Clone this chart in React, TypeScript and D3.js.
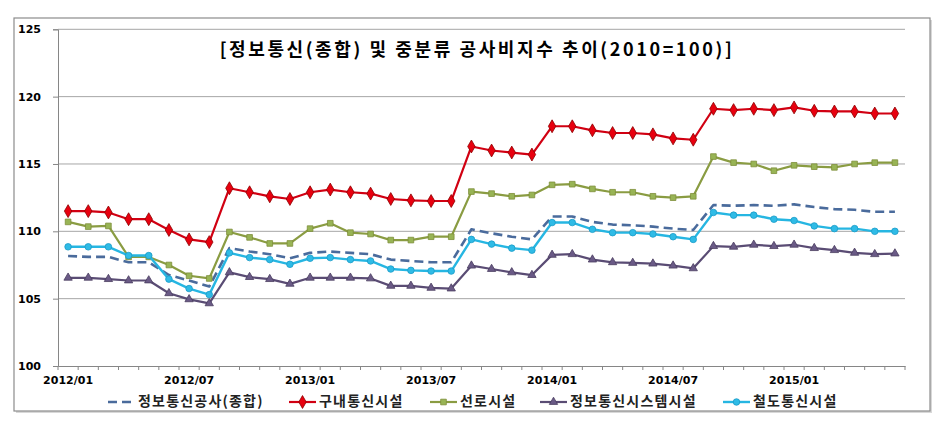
import React, { useEffect, useRef } from "react";
import * as d3 from "d3";

const months = [
  "2012/01", "2012/02", "2012/03", "2012/04", "2012/05", "2012/06",
  "2012/07", "2012/08", "2012/09", "2012/10", "2012/11", "2012/12",
  "2013/01", "2013/02", "2013/03", "2013/04", "2013/05", "2013/06",
  "2013/07", "2013/08", "2013/09", "2013/10", "2013/11", "2013/12",
  "2014/01", "2014/02", "2014/03", "2014/04", "2014/05", "2014/06",
  "2014/07", "2014/08", "2014/09", "2014/10", "2014/11", "2014/12",
  "2015/01", "2015/02", "2015/03", "2015/04", "2015/05", "2015/06",
];
const xTickLabels = ["2012/01", "2012/07", "2013/01", "2013/07", "2014/01", "2014/07", "2015/01"];
const yTicks = [100, 105, 110, 115, 120, 125];

const total = [
  108.17, 108.1, 108.1, 107.7, 107.7, 106.75, 106.35, 105.9, 108.75, 108.5, 108.3, 108.0,
  108.4, 108.5, 108.4, 108.3, 107.9, 107.8, 107.7, 107.7, 110.15, 109.85, 109.6, 109.4,
  111.1, 111.1, 110.7, 110.5, 110.45, 110.35, 110.2, 110.1, 111.95, 111.9, 111.95, 111.9,
  112.0, 111.8, 111.65, 111.6, 111.45, 111.45,
];
const indoor = [
  111.5, 111.5, 111.4, 110.9, 110.9, 110.1, 109.4, 109.2, 113.2, 112.9, 112.6, 112.4,
  112.9, 113.1, 112.9, 112.8, 112.4, 112.3, 112.25, 112.25, 116.3, 116.0, 115.85, 115.7,
  117.8, 117.8, 117.5, 117.3, 117.3, 117.2, 116.9, 116.8, 119.1, 119.0, 119.1, 119.0,
  119.2, 118.95, 118.9, 118.9, 118.75, 118.75,
];
const cable = [
  110.7, 110.35, 110.4, 108.1, 108.1, 107.5, 106.7, 106.5, 109.95, 109.55, 109.1, 109.1,
  110.2, 110.6, 109.9, 109.8, 109.35, 109.35, 109.6, 109.6, 112.95, 112.8, 112.6, 112.7,
  113.45, 113.5, 113.15, 112.9, 112.9, 112.6, 112.5, 112.6, 115.55, 115.1, 115.0, 114.5,
  114.9, 114.8, 114.75, 115.0, 115.1, 115.1,
];
const system = [
  106.55, 106.55, 106.45, 106.35, 106.35, 105.4, 104.95, 104.65, 106.95, 106.6, 106.45, 106.1,
  106.55, 106.55, 106.55, 106.5, 105.95, 105.95, 105.8, 105.75, 107.45, 107.2, 106.95, 106.75,
  108.25, 108.3, 107.9, 107.7, 107.65, 107.6, 107.45, 107.25, 108.9, 108.85, 109.0, 108.9,
  109.0, 108.75, 108.6, 108.4, 108.3, 108.35,
];
const rail = [
  108.85, 108.85, 108.85, 108.2, 108.2, 106.45, 105.75, 105.3, 108.4, 108.05, 107.9, 107.55,
  108.0, 108.05, 107.9, 107.8, 107.2, 107.1, 107.05, 107.05, 109.4, 109.05, 108.75, 108.6,
  110.65, 110.65, 110.15, 109.9, 109.9, 109.8, 109.6, 109.4, 111.4, 111.2, 111.2, 110.9,
  110.8, 110.4, 110.2, 110.2, 110.0, 110.0,
];

const seriesNames = ["정보통신공사(종합)", "구내통신시설", "선로시설", "정보통신시스템시설", "철도통신시설"];

const W = 943;
const H = 433;
const KR = "'Noto Sans CJK KR', 'Noto Sans', sans-serif";
const NUM = "'DejaVu Sans', Verdana, sans-serif";

const App = () => {
  const svgRef = useRef(null);

  useEffect(() => {
    const svg = d3.select(svgRef.current);
    svg.selectAll("*").remove();

    const series = [
      { name: seriesNames[0], values: total, color: "#4a6b9c", dash: "9,5", symbol: null, fill: null, edge: null, width: 2.6, size: 0 },
      { name: seriesNames[1], values: indoor, color: "#d10012", dash: null, symbol: d3.symbolDiamond, fill: "#e8000f", edge: "#8c0000", width: 2.2, size: 48 },
      { name: seriesNames[2], values: cable, color: "#8a9c42", dash: null, symbol: d3.symbolSquare, fill: "#98b455", edge: "#7d8e3a", width: 2.2, size: 32 },
      { name: seriesNames[3], values: system, color: "#5a4c74", dash: null, symbol: d3.symbolTriangle, fill: "#6a5a86", edge: "#4a3d60", width: 2.2, size: 30 },
      { name: seriesNames[4], values: rail, color: "#26b6e2", dash: null, symbol: d3.symbolCircle, fill: "#2fbbe6", edge: "#1a9cc8", width: 2.4, size: 34 },
    ];

    const left = 58, right = 905, top = 29.3, bottom = 366;

    const x = d3.scaleBand().domain(months).range([left, right]).padding(0);
    const y = d3.scaleLinear().domain([100, 125]).range([bottom, top]);
    const cx = (m) => x(m) + x.bandwidth() / 2;

    // outer frame
    svg.append("rect").attr("x", 16).attr("y", 20).attr("width", 916).attr("height", 393).attr("fill", "#d8d8d8");
    svg.append("rect").attr("x", 14).attr("y", 18).attr("width", 916).attr("height", 393)
      .attr("fill", "#fff").attr("stroke", "#8c8c8c").attr("stroke-width", 1.2);

    // gridlines
    svg.append("g")
      .selectAll("line")
      .data(yTicks.slice(1))
      .join("line")
      .attr("x1", left).attr("x2", right)
      .attr("y1", (d) => y(d)).attr("y2", (d) => y(d))
      .attr("stroke", "#a6a6a6").attr("stroke-width", 1);

    // y axis
    const yAxis = svg.append("g")
      .attr("transform", `translate(${left},0)`)
      .call(d3.axisLeft(y).tickValues(yTicks).tickSize(5).tickPadding(12));
    yAxis.select(".domain").attr("stroke", "#868686");
    yAxis.selectAll(".tick line").attr("stroke", "#868686");
    yAxis.selectAll("text").attr("font-family", NUM).attr("font-size", 11).attr("font-weight", "bold").attr("fill", "#000");

    // x axis
    const xAxis = svg.append("g")
      .attr("transform", `translate(0,${bottom})`)
      .call(d3.axisBottom(x).tickValues(xTickLabels).tickSize(0).tickPadding(10));
    xAxis.select(".domain").attr("stroke", "#868686");
    xAxis.selectAll("text").attr("font-family", NUM).attr("font-size", 11).attr("font-weight", "bold").attr("fill", "#000");
    svg.append("g")
      .selectAll("line")
      .data([...months.map((m) => x(m)), right])
      .join("line")
      .attr("x1", (d) => d).attr("x2", (d) => d)
      .attr("y1", bottom).attr("y2", bottom + 4)
      .attr("stroke", "#868686");

    // lines + markers
    const lineGen = d3.line().x((d) => cx(d.m)).y((d) => y(d.v));
    series.forEach((s) => {
      const pts = s.values.map((v, i) => ({ m: months[i], v }));
      svg.append("path")
        .datum(pts)
        .attr("d", lineGen)
        .attr("fill", "none")
        .attr("stroke", s.color)
        .attr("stroke-width", s.width)
        .attr("stroke-dasharray", s.dash)
        .attr("stroke-linejoin", "round");
      if (s.symbol) {
        svg.append("g")
          .selectAll("path")
          .data(pts)
          .join("path")
          .attr("d", d3.symbol(s.symbol, s.size))
          .attr("transform", (d) => `translate(${cx(d.m)},${y(d.v)})`)
          .attr("fill", s.fill)
          .attr("stroke", s.edge)
          .attr("stroke-width", 0.8);
      }
    });

    // title
    svg.append("text")
      .attr("x", 477).attr("y", 51)
      .attr("text-anchor", "middle").attr("dominant-baseline", "middle")
      .attr("font-family", KR).attr("font-size", 18).attr("font-weight", "bold")
      .attr("letter-spacing", 2.6)
      .text("[정보통신(종합) 및 중분류 공사비지수 추이(2010=100)]");

    // legend
    const legendX = [108, 289, 430, 540, 723];
    const ly = 402;
    series.forEach((s, i) => {
      const g = svg.append("g").attr("transform", `translate(${legendX[i]},${ly})`);
      g.append("line").attr("x1", 0).attr("x2", 27).attr("y1", 0).attr("y2", 0)
        .attr("stroke", s.color).attr("stroke-width", s.width).attr("stroke-dasharray", s.dash);
      if (s.symbol) {
        g.append("path").attr("d", d3.symbol(s.symbol, s.size)).attr("transform", "translate(13.5,0)")
          .attr("fill", s.fill).attr("stroke", s.edge).attr("stroke-width", 0.8);
      }
      g.append("text").attr("x", 30).attr("y", 0).attr("dominant-baseline", "middle")
        .attr("font-family", KR).attr("font-size", 14).attr("font-weight", "bold").attr("fill", "#222")
        .attr("letter-spacing", 1.2)
        .text(s.name);
    });
  }, []);

  return (
    <svg ref={svgRef} width={W} height={H} style={{ position: "absolute", left: 0, top: 0, background: "#fff" }}></svg>
  );
};

export default App;
